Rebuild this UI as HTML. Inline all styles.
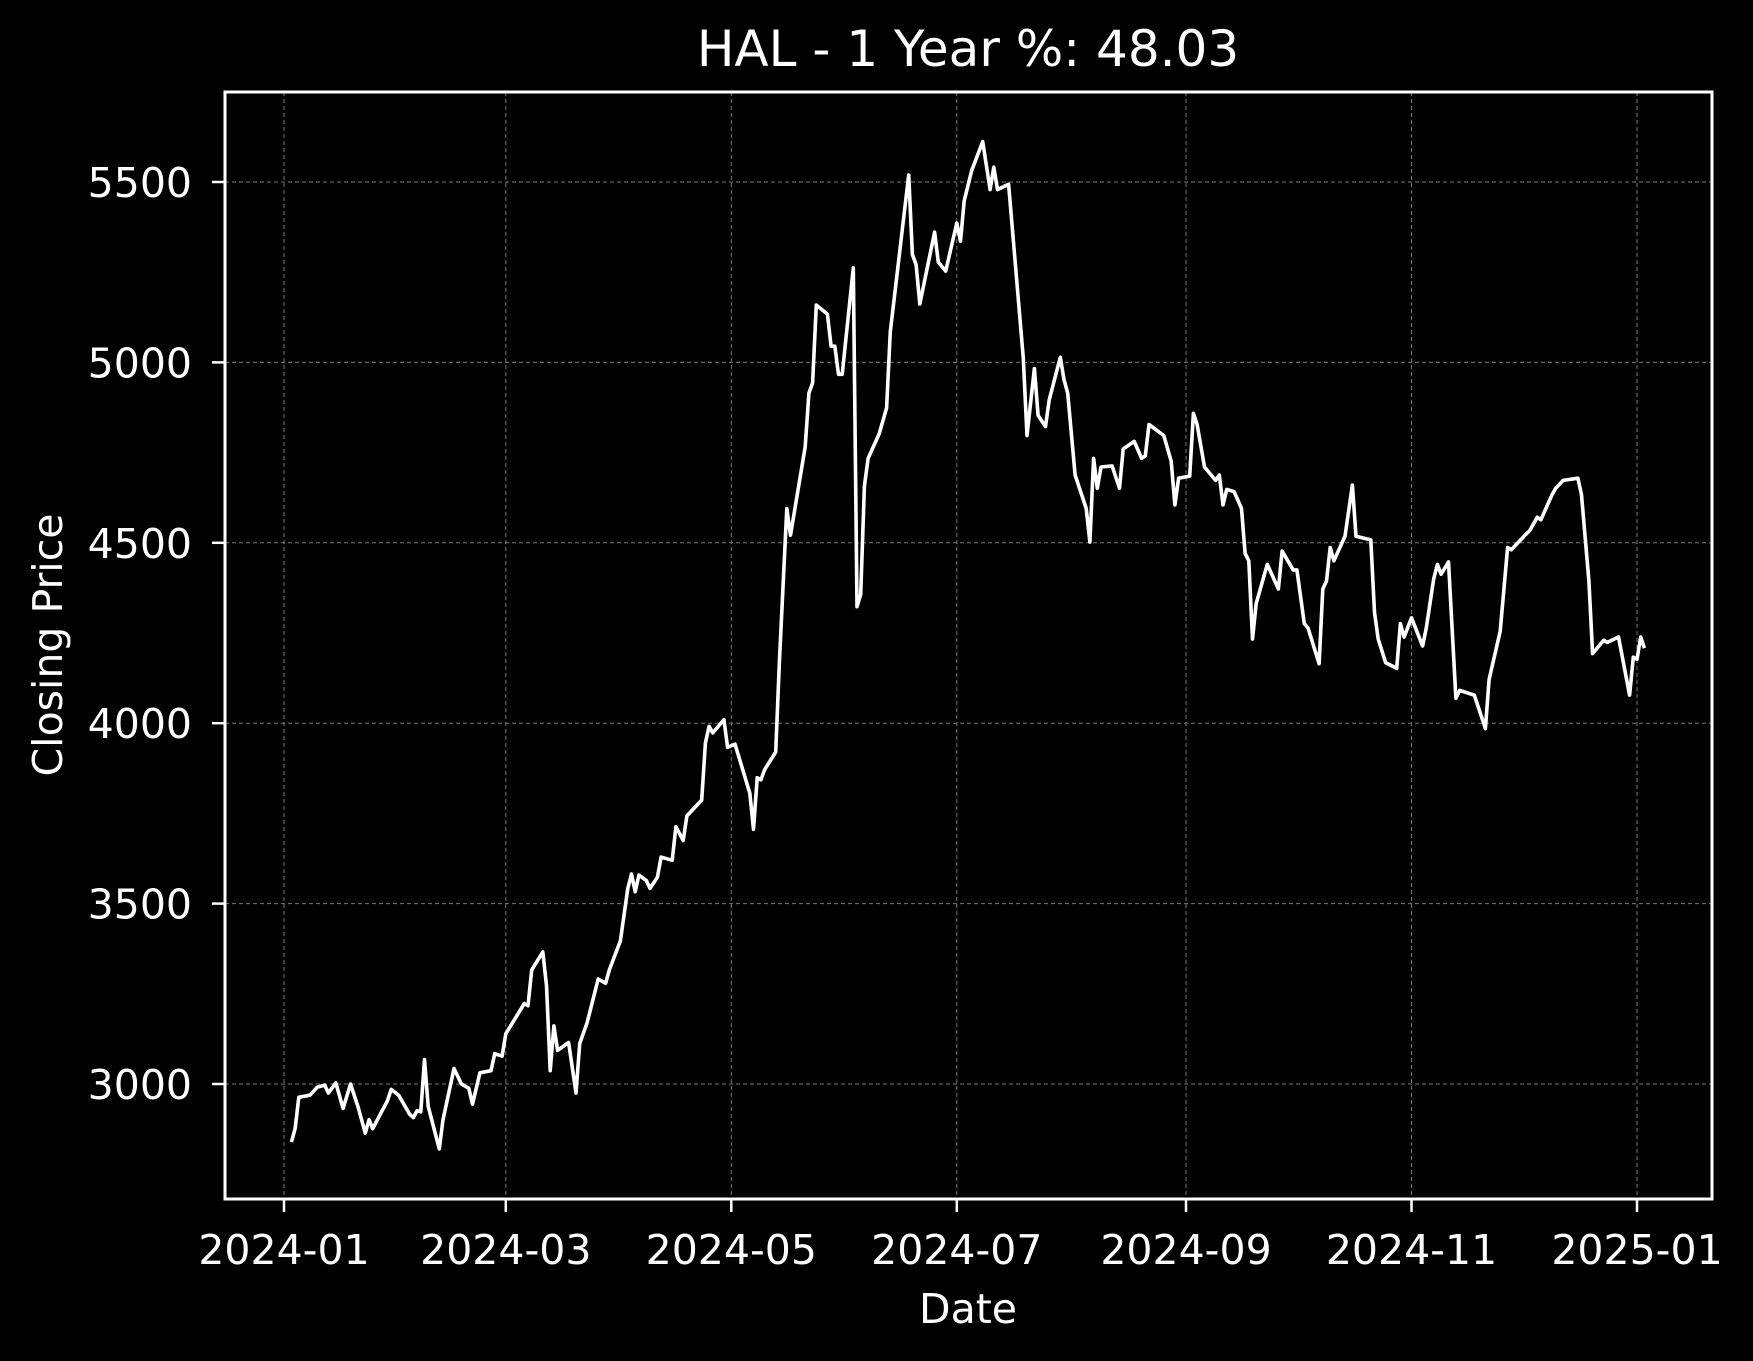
<!DOCTYPE html>
<html><head><meta charset="utf-8"><style>
html,body{margin:0;padding:0;background:#000;}
svg{display:block;font-family:"DejaVu Sans","Liberation Sans",sans-serif;}
</style></head><body>
<svg id="chart" width="1753" height="1361" viewBox="0 0 1753 1361">
<rect width="1753" height="1361" fill="#000"/>
<g id="grid"></g>
<g id="ticks"></g>
<path id="line" fill="none" stroke="#fff" stroke-width="3.6" stroke-linejoin="round"/>
<rect x="225" y="92" width="1487" height="1107" fill="none" stroke="#fff" stroke-width="3"/>
<text x="968" y="66" fill="#fff" font-size="50" text-anchor="middle">HAL - 1 Year %: 48.03</text>
<text x="968" y="1323" fill="#fff" font-size="41" text-anchor="middle">Date</text>
<text x="0" y="0" transform="translate(62,645) rotate(-90)" fill="#fff" font-size="41" text-anchor="middle">Closing Price</text>
</svg>
<script>
const xTickLabels=["2024-01","2024-03","2024-05","2024-07","2024-09","2024-11","2025-01"];
const xTickDays=[0,60,121,182,244,305,366];
const yTicks=[3000,3500,4000,4500,5000,5500];
const days=[2,3,4,7,9,11,12,14,16,18,20,22,23,24,28,29,31,34,35,36,37,38,39,42,43,46,48,50,51,53,56,57,59,60,65,66,67,70,71,72,73,74,77,79,80,82,85,87,88,91,93,94,95,96,98,99,101,102,105,106,108,109,113,114,115,116,119,120,122,126,127,128,129,130,133,134,136,137,141,142,143,144,147,148,149,150,151,154,155,156,157,158,161,163,164,169,170,171,172,176,177,179,182,183,184,186,189,191,192,193,196,200,201,203,204,206,207,210,211,212,214,217,218,219,220,221,224,226,227,230,232,233,234,238,240,241,242,245,246,247,249,252,253,254,255,257,259,260,261,262,263,266,269,270,273,274,276,277,280,281,282,283,284,287,289,290,294,295,296,298,301,302,303,305,308,309,311,312,313,315,317,318,322,325,326,329,331,332,336,337,339,340,343,344,346,350,351,353,354,357,358,361,364,365,366,367,368];
const prices=[2839,2876,2963,2969,2991,2997,2975,3003,2932,3000,2938,2864,2901,2876,2954,2985,2969,2916,2907,2926,2923,3068,2938,2820,2901,3043,3000,2988,2944,3031,3037,3084,3077,3139,3223,3217,3316,3366,3273,3037,3161,3093,3115,2975,3112,3170,3291,3279,3316,3397,3542,3582,3533,3579,3564,3542,3573,3629,3620,3713,3675,3743,3787,3945,3991,3973,4010,3933,3942,3806,3706,3849,3843,3871,3920,4171,4595,4521,4766,4915,4943,5159,5134,5045,5045,4967,4967,5262,4323,4357,4657,4734,4802,4874,5085,5519,5299,5271,5162,5361,5278,5253,5386,5336,5448,5531,5612,5479,5541,5479,5494,5011,4797,4983,4853,4822,4896,5014,4952,4915,4688,4595,4502,4734,4651,4710,4713,4651,4760,4781,4734,4741,4828,4797,4726,4605,4679,4685,4859,4828,4710,4673,4688,4605,4648,4642,4595,4471,4450,4233,4332,4440,4372,4477,4425,4425,4276,4264,4165,4372,4394,4487,4450,4518,4660,4518,4508,4307,4233,4168,4152,4276,4239,4292,4214,4264,4400,4440,4413,4447,4069,4091,4078,3985,4121,4255,4487,4481,4524,4534,4571,4564,4633,4651,4673,4679,4633,4394,4193,4230,4224,4239,4078,4183,4177,4239,4208];
const NS="http://www.w3.org/2000/svg";
const L=225,R=1712,T=92,B=1199;
function xs(d){return 284+d*(1637-284)/366;}
function ys(v){return 1084-(v-3000)*(1084-182)/2500;}
const grid=document.getElementById('grid'),ticks=document.getElementById('ticks');
function mk(tag,attrs,parent){const e=document.createElementNS(NS,tag);for(const k in attrs)e.setAttribute(k,attrs[k]);parent.appendChild(e);return e;}
xTickDays.forEach((d,i)=>{
  const x=xs(d);
  const g=mk('line',{x1:x,x2:x,y1:T,y2:B,stroke:'#777','stroke-width':1,'stroke-dasharray':'4,3'},grid);
  
  
  const t=mk('line',{x1:x,x2:x,y1:B,y2:B+13,stroke:'#fff','stroke-width':2.5},ticks);
  
  
  const l=mk('text',{x:x,y:1264,fill:'#fff','font-size':41,'text-anchor':'middle'},ticks);
  l.textContent=xTickLabels[i];
  
  
});
yTicks.forEach(v=>{
  const y=ys(v);
  const g=mk('line',{x1:L,x2:R,y1:y,y2:y,stroke:'#777','stroke-width':1,'stroke-dasharray':'4,3'},grid);
  
  
  const t=mk('line',{x1:L-13,x2:L,y1:y,y2:y,stroke:'#fff','stroke-width':2.5},ticks);
  
  
  const l=mk('text',{x:L-33,y:y+15,fill:'#fff','font-size':41,'text-anchor':'end'},ticks);
  l.textContent=v;
  
  
});
let d='';
days.forEach((dd,i)=>{d+=(i?'L':'M')+xs(dd).toFixed(1)+','+ys(prices[i]).toFixed(1);});
document.getElementById('line').setAttribute('d',d);
</script>
</body></html>
